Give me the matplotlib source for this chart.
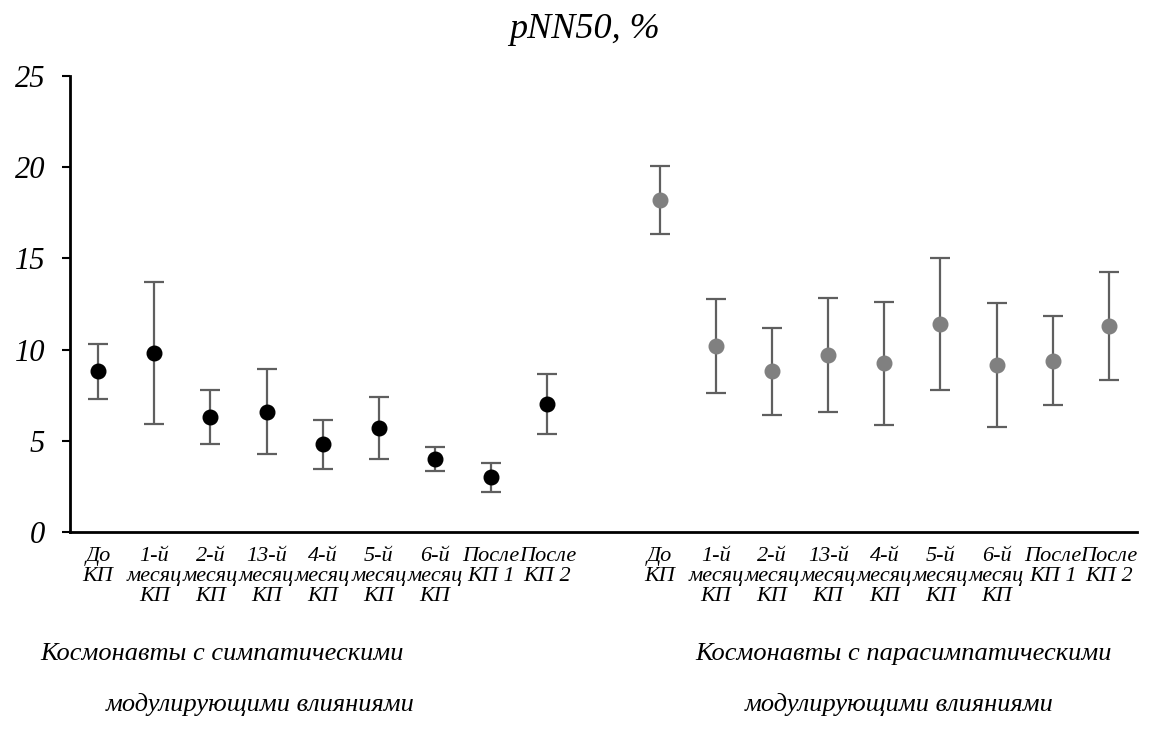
import numpy as np
import matplotlib
matplotlib.use('Agg')
import matplotlib.pyplot as plt

plt.rcParams['font.family'] = ['Liberation Serif', 'DejaVu Serif']
plt.rcParams['font.style'] = 'italic'

# Time points, same for both groups
periods = ['До\nКП', '1-й\nмесяц\nКП', '2-й\nмесяц\nКП', '13-й\nмесяц\nКП',
           '4-й\nмесяц\nКП', '5-й\nмесяц\nКП', '6-й\nмесяц\nКП',
           'После\nКП 1', 'После\nКП 2']

# pNN50 means and error values, sympathetic group
symp_mean = [8.8, 9.8, 6.3, 6.6, 4.8, 5.7, 4.0, 3.0, 7.0]
symp_err = [1.5, 3.9, 1.5, 2.35, 1.35, 1.7, 0.66, 0.8, 1.65]

# parasympathetic group
para_mean = [18.2, 10.2, 8.8, 9.7, 9.25, 11.4, 9.15, 9.4, 11.3]
para_err = [1.87, 2.6, 2.38, 3.12, 3.38, 3.6, 3.39, 2.45, 2.95]

fig = plt.figure(figsize=(11.5, 7.36), dpi=100)
ax = fig.add_axes([70 / 1150, 1 - 532 / 736, 1067 / 1150, 456 / 736])

n = len(periods)
x_symp = np.arange(n)
x_para = np.arange(n) + n + 1

ax.errorbar(x_symp, symp_mean, yerr=symp_err, fmt='o', color='black',
            markersize=10.5, ecolor='#5f5f5f', elinewidth=1.6, capsize=7.5,
            capthick=1.6)
ax.errorbar(x_para, para_mean, yerr=para_err, fmt='o', color='#808080',
            markersize=10.5, ecolor='#5f5f5f', elinewidth=1.6, capsize=7.5,
            capthick=1.6)

ax.set_xlim(-0.5, 2 * n + 0.5)
ax.set_ylim(0, 25)
ax.set_yticks(range(0, 26, 5))
ax.tick_params(axis='y', labelsize=22, length=6, width=1.5, pad=12)
ax.set_xticks(np.concatenate([x_symp, x_para]))
ax.set_xticklabels(periods + periods, fontsize=16, va='top', linespacing=1.06)
ax.tick_params(axis='x', length=0, pad=11)

for side in ['top', 'right']:
    ax.spines[side].set_visible(False)
for side in ['left', 'bottom']:
    ax.spines[side].set_linewidth(2)

fig.text(585 / 1150, 1 - 30 / 736, 'pNN50, %', ha='center', va='center',
         fontsize=26)

fig.text(40 / 1150, 1 - 654 / 736, 'Космонавты с симпатическими',
         ha='left', va='center', fontsize=19)
fig.text(106 / 1150, 1 - 704 / 736, 'модулирующими влияниями',
         ha='left', va='center', fontsize=19)
fig.text(695 / 1150, 1 - 654 / 736, 'Космонавты с парасимпатическими',
         ha='left', va='center', fontsize=19)
fig.text(745 / 1150, 1 - 704 / 736, 'модулирующими влияниями',
         ha='left', va='center', fontsize=19)

fig.savefig('out.png', dpi=100, facecolor='white')
